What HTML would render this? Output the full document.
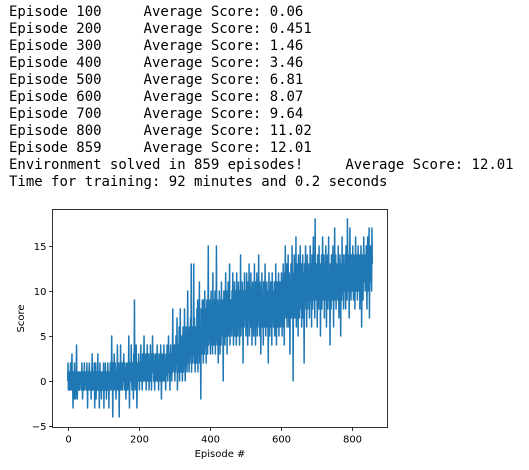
<!DOCTYPE html>
<html><head><meta charset="utf-8"><style>
body{margin:0;background:#fff;width:529px;height:470px;overflow:hidden;position:relative}
#log{position:absolute;left:9px;top:4px;margin:0;font-family:"DejaVu Sans Mono","Liberation Mono",monospace;font-size:13.97px;line-height:17px;color:#000;white-space:pre}
svg{position:absolute;left:0;top:0}
svg text{font-family:"DejaVu Sans","Liberation Sans",sans-serif;font-size:10px;fill:#000}
</style></head><body>
<pre id="log">Episode 100     Average Score: 0.06
Episode 200     Average Score: 0.451
Episode 300     Average Score: 1.46
Episode 400     Average Score: 3.46
Episode 500     Average Score: 6.81
Episode 600     Average Score: 8.07
Episode 700     Average Score: 9.64
Episode 800     Average Score: 11.02
Episode 859     Average Score: 12.01
Environment solved in 859 episodes!     Average Score: 12.01
Time for training: 92 minutes and 0.2 seconds</pre>
<svg id="chart" width="529" height="470"></svg>
<script>
const xTicks=[0,200,400,600,800];
const yTicks=[-5,0,5,10,15];
const scores=[
0,2,-1,1,0,-1,1,0,2,-1,0,1,3,-1,0,-3,1,0,-2,2,
0,1,-2,0,1,4,-1,-2,0,1,0,-1,1,0,-1,1,0,0,1,-1,
2,0,-2,1,0,-1,0,2,-1,1,0,0,1,-1,2,0,-3,1,0,-1,
1,2,0,-1,0,1,-2,0,1,3,-1,0,1,0,-1,2,-3,0,1,2,
-2,0,1,-1,0,3,-1,0,1,-3,0,2,-1,1,0,-2,1,0,-1,1,
0,2,-3,1,0,-1,2,0,1,-2,0,1,-1,2,0,1,-3,0,1,0,
2,-1,0,1,5,-1,0,-4,2,1,0,3,-1,0,2,1,-2,0,1,0,
4,-1,0,1,2,-4,0,1,0,4,-1,2,0,1,-1,2,0,1,3,0,
-1,2,0,1,-2,0,2,1,0,-1,2,0,5,1,-3,0,2,1,0,4,
1,-1,2,0,1,-2,3,0,9,1,-1,2,0,4,1,-3,0,2,1,0,
3,1,-1,2,0,1,4,0,2,1,-1,3,1,0,2,5,1,0,2,1,
3,-1,2,1,4,0,1,2,3,-1,1,2,0,4,1,2,-1,3,1,5,
1,2,0,3,1,-1,2,1,3,0,2,1,4,0,1,2,-1,3,1,2,
0,2,4,1,-2,1,3,2,0,1,2,4,0,3,1,2,-1,1,3,2,
4,1,0,2,5,1,3,2,-1,2,4,1,3,0,2,3,8,1,2,4,
2,3,0,4,1,5,2,3,7,-1,2,4,1,3,6,0,2,8,3,1,
4,2,5,0,3,6,1,4,2,8,3,0,5,2,6,3,1,4,10,2,
5,3,1,6,2,4,7,3,13,1,5,2,6,4,3,13,2,7,4,1,
6,3,5,2,8,4,9,1,5,3,7,11,2,6,4,-2,8,5,3,9,
4,6,2,9,5,3,10,7,4,8,2,6,9,5,3,7,15,4,6,8,
5,9,3,7,10,4,6,8,3,12,5,7,4,9,6,10,3,8,5,15,
6,4,9,7,2,8,5,10,6,3,9,7,4,11,6,8,5,9,0,7,
10,6,8,4,9,12,5,7,10,3,8,6,11,5,9,7,13,4,8,6,
9,7,5,10,6,12,8,4,9,7,11,5,8,6,10,4,12,7,9,5,
8,11,6,9,4,10,7,14,5,9,8,6,11,7,2,9,10,6,12,8,
7,10,5,9,12,6,8,4,11,7,9,13,5,8,10,6,12,7,9,4,
8,11,6,10,5,9,13,7,8,4,11,6,9,12,5,8,10,7,14,6,
9,5,11,8,3,10,7,12,6,9,8,4,11,7,10,6,13,8,5,9,
7,11,6,10,8,2,9,12,7,5,10,8,11,6,9,4,12,7,10,8,
6,9,11,5,10,7,13,8,4,9,11,6,10,8,12,5,9,7,11,6,
10,7,12,8,5,11,9,13,6,10,4,12,8,15,9,7,11,13,6,10,
8,14,9,6,12,10,3,11,8,13,7,10,15,9,12,0,11,8,14,10,
7,12,9,16,6,11,13,8,10,5,14,9,12,7,11,15,10,8,13,6,
11,9,14,7,12,10,2,13,8,11,15,9,12,6,10,14,8,11,13,9,
12,7,10,15,9,13,11,6,14,10,8,12,16,9,11,13,7,18,10,12,
9,13,11,6,14,10,12,8,15,11,9,13,5,12,10,14,8,11,16,9,
12,10,14,7,13,11,9,15,12,6,13,10,14,8,11,16,9,12,10,4,
13,11,8,14,10,12,9,15,11,6,13,10,17,9,12,14,8,11,13,10,
12,9,15,11,7,13,10,14,12,5,11,13,9,16,10,12,14,8,11,13,
10,14,12,8,15,11,13,9,18,12,10,14,11,7,13,17,10,12,9,14,
11,13,10,15,12,9,14,11,13,8,12,16,10,13,11,14,9,12,15,10,
13,11,14,8,12,10,15,13,6,11,14,12,9,13,16,11,12,14,10,13,
12,15,11,8,13,16,10,14,12,17,7,13,11,15,12,14,10,17,13
];
const NS='http://www.w3.org/2000/svg';
const svg=document.getElementById('chart');
const L=52.5,R=387.5,T=209.5,B=427.5;
const xs=v=>67.7+v*0.355;
const ys=v=>381-v*9;
function mk(tag,attrs,parent){const e=document.createElementNS(NS,tag);for(const k in attrs)e.setAttribute(k,attrs[k]);(parent||svg).appendChild(e);return e;}
let d='';
scores.forEach((v,i)=>{d+=(i?'L':'M')+xs(i).toFixed(2)+' '+ys(v).toFixed(2);});
const line=mk('path',{d:d,fill:'none',stroke:'#1f77b4','stroke-width':1.5,'stroke-linejoin':'round'});


const frame=mk('rect',{x:L,y:T,width:R-L,height:B-T,fill:'none',stroke:'#000','stroke-width':0.8});


xTicks.forEach(t=>{
  const x=Math.round(xs(t))+0.5;
  const tk=mk('line',{x1:x,x2:x,y1:B,y2:B+3.5,stroke:'#000','stroke-width':0.8});
  
  
  const tx=mk('text',{x:x,y:B+15,'text-anchor':'middle'});tx.textContent=t;
  
  
});
yTicks.forEach(t=>{
  const y=Math.round(ys(t))+0.5;
  const tk=mk('line',{x1:L-3.5,x2:L,y1:y,y2:y,stroke:'#000','stroke-width':0.8});
  
  
  const tx=mk('text',{x:L-6,y:y+3.5,'text-anchor':'end'});tx.textContent=t<0?'\u2212'+(-t):t;
  
  
});
const xl=mk('text',{x:(L+R)/2,y:457,'text-anchor':'middle'});xl.textContent='Episode #';


const yl=mk('text',{x:24,y:(T+B)/2,'text-anchor':'middle',transform:'rotate(-90 24 '+((T+B)/2)+')'});yl.textContent='Score';


</script>
</body></html>
